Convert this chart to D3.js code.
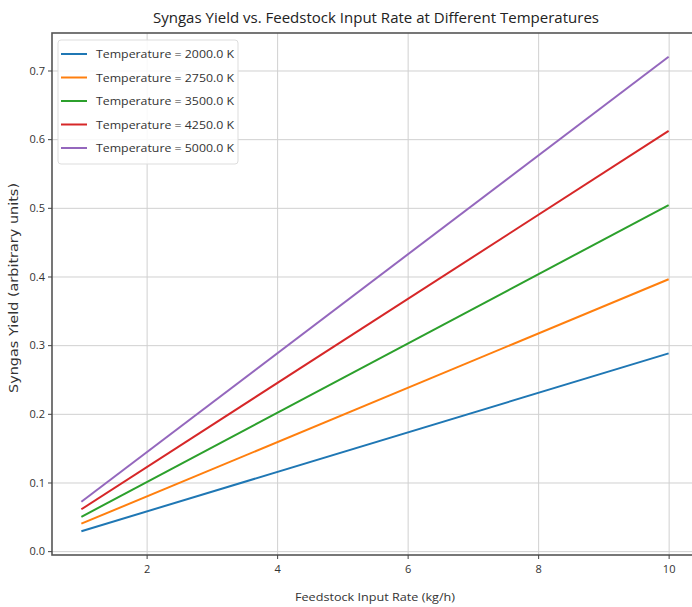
<!DOCTYPE html>
<html>
<head>
<meta charset="utf-8">
<script src="https://cdn.jsdelivr.net/npm/d3@7"></script>
<style>
  body { margin: 0; background: #fff; }
  .tick text { font-family: "Open Sans", sans-serif; font-size: 11px; fill: #333; }
  .grid line { stroke: #d0d0d0; stroke-width: 1; }
  .grid .domain { display: none; }
</style>
</head>
<body>
<div id="chart"></div>
<script>
// data
let feed_rates = [1, 10];
let temperatures = [2000.0, 2750.0, 3500.0, 4250.0, 5000.0];
let yield_2000 = [0.029, 0.288];
let yield_2750 = [0.040, 0.396];
let yield_3500 = [0.050, 0.504];
let yield_4250 = [0.061, 0.612];
let yield_5000 = [0.072, 0.720];
let colors = ["#1f77b4", "#ff7f0e", "#2ca02c", "#d62728", "#9467bd"];
let x_ticks = [2, 4, 6, 8, 10];
let y_ticks = [0.0, 0.1, 0.2, 0.3, 0.4, 0.5, 0.6, 0.7];

let series = [yield_2000, yield_2750, yield_3500, yield_4250, yield_5000];

let total_width = 692, total_height = 607;
let margin = {top: 33, right: -6, bottom: 52, left: 52};
let width = total_width - margin.left - margin.right;
let height = total_height - margin.top - margin.bottom;

let x = d3.scaleLinear().domain([0.55, 10.45]).range([0, width]);
let y = d3.scaleLinear().domain([-0.0056, 0.7546]).range([height, 0]);

let svg = d3.select("#chart").append("svg")
  .attr("width", total_width)
  .attr("height", total_height)
  .style("font-family", "Open Sans, sans-serif");

let g = svg.append("g").attr("transform", "translate(" + margin.left + "," + margin.top + ")");

// grid
g.append("g").attr("class", "grid")
  .attr("transform", "translate(0," + height + ")")
  .call(d3.axisBottom(x).tickValues(x_ticks).tickSize(-height).tickFormat(""));
g.append("g").attr("class", "grid")
  .call(d3.axisLeft(y).tickValues(y_ticks).tickSize(-width).tickFormat(""));

// lines
let line = d3.line()
  .x((d, i) => x(feed_rates[i]))
  .y(d => y(d));

series.forEach((s, i) => {
  g.append("path").datum(s)
    .attr("fill", "none")
    .attr("stroke", colors[i])
    .attr("stroke-width", 2)
    .attr("d", line);
});

// spines
g.append("rect")
  .attr("x", 0).attr("y", 0)
  .attr("width", width).attr("height", height)
  .attr("fill", "none").attr("stroke", "#555").attr("stroke-width", 1.6);

// axes
let xAxis = g.append("g")
  .attr("transform", "translate(0," + height + ")")
  .call(d3.axisBottom(x).tickValues(x_ticks).tickSize(4).tickPadding(6).tickFormat(d3.format("d")));
xAxis.select(".domain").remove();
xAxis.selectAll(".tick line").attr("stroke", "#444");

let yAxis = g.append("g")
  .call(d3.axisLeft(y).tickValues(y_ticks).tickSize(4).tickPadding(3).tickFormat(d3.format(".1f")));
yAxis.select(".domain").remove();
yAxis.selectAll(".tick line").attr("stroke", "#444");

// title and labels
svg.append("text")
  .attr("x", 376).attr("y", 23)
  .attr("text-anchor", "middle")
  .attr("font-size", 15)
  .attr("fill", "#222")
  .attr("textLength", 446)
  .attr("lengthAdjust", "spacingAndGlyphs")
  .text("Syngas Yield vs. Feedstock Input Rate at Different Temperatures");

svg.append("text")
  .attr("x", 375).attr("y", 601)
  .attr("text-anchor", "middle")
  .attr("font-size", 11.5)
  .attr("fill", "#333")
  .attr("textLength", 160)
  .attr("lengthAdjust", "spacingAndGlyphs")
  .text("Feedstock Input Rate (kg/h)");

svg.append("text")
  .attr("transform", "translate(18,288) rotate(-90)")
  .attr("text-anchor", "middle")
  .attr("font-family", "DejaVu Sans, sans-serif")
  .attr("font-size", 11.5)
  .attr("fill", "#333")
  .attr("textLength", 210)
  .attr("lengthAdjust", "spacingAndGlyphs")
  .text("Syngas Yield (arbitrary units)");

// legend
let legend = g.append("g").attr("transform", "translate(6,7)");
legend.append("rect")
  .attr("width", 180).attr("height", 124)
  .attr("rx", 3)
  .attr("fill", "#fff").attr("fill-opacity", 0.85)
  .attr("stroke", "#ddd");
temperatures.forEach((t, i) => {
  let ly = 14 + i * 23.5;
  legend.append("line")
    .attr("x1", 3).attr("x2", 29)
    .attr("y1", ly).attr("y2", ly)
    .attr("stroke", colors[i]).attr("stroke-width", 2);
  legend.append("text")
    .attr("x", 38).attr("y", ly + 4)
    .attr("font-size", 11.5)
    .attr("fill", "#333")
    .attr("textLength", 138)
    .attr("lengthAdjust", "spacingAndGlyphs")
    .text("Temperature = " + t.toFixed(1) + " K");
});
</script>
</body>
</html>
